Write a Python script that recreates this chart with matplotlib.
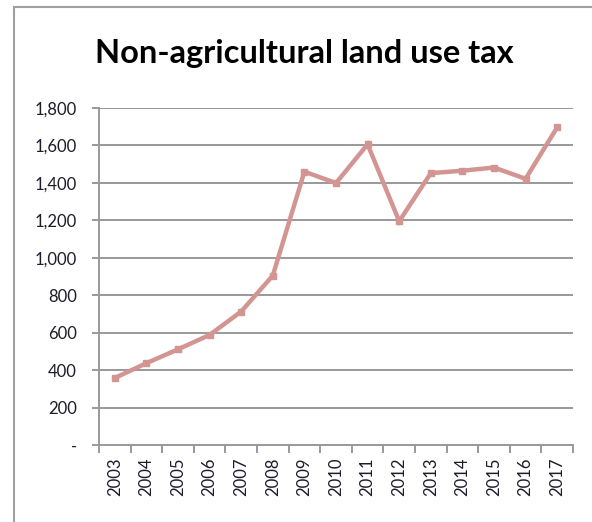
import matplotlib
matplotlib.use('Agg')
import matplotlib.pyplot as plt
from matplotlib.patches import Rectangle
from matplotlib.ticker import FuncFormatter, FixedLocator
import numpy as np

years = ['2003', '2004', '2005', '2006', '2007', '2008', '2009', '2010',
         '2011', '2012', '2013', '2014', '2015', '2016', '2017']
tax = [358, 437, 511, 588, 713, 905, 1460, 1399,
       1606, 1195, 1452, 1465, 1482, 1422, 1697]

plt.rcParams['font.family'] = ['Lato', 'DejaVu Sans']

fig = plt.figure(figsize=(5.92, 5.22), dpi=100)
ax = fig.add_axes([99 / 592, 77 / 522, 474 / 592, 337 / 522])

# chart border
fig.patches.append(Rectangle((14 / 592, -0.1), 1.2, (522 - 7) / 522 + 0.1,
                             transform=fig.transFigure, fill=False,
                             edgecolor='#a0a0a0', linewidth=1.5))

x = np.arange(len(years))
ax.plot(x, tax, color='#d39592', linewidth=3.2, marker='s', markersize=4,
        solid_joinstyle='miter', zorder=3)

ax.set_xlim(-0.5, len(years) - 0.5)
ax.set_ylim(0, 1800)
ax.set_yticks(np.arange(0, 1801, 200))
ax.yaxis.set_major_formatter(FuncFormatter(
    lambda v, p: '-' if v == 0 else '{:,.0f}'.format(v)))
ax.grid(axis='y', color='#999999', linewidth=1.4)
ax.set_axisbelow(True)

ax.set_xticks(x)
ax.set_xticklabels(years, rotation=90)
ax.xaxis.set_minor_locator(FixedLocator(np.arange(-0.5, len(years), 1)))
ax.tick_params(axis='x', which='major', length=0, pad=9)
ax.tick_params(axis='x', which='minor', length=6, color='#999999', width=1.4)
ax.tick_params(axis='y', length=5, color='#999999', width=1.4, pad=11)
ax.tick_params(labelsize=12, labelcolor='#1c1c2a')

for s in ['top', 'right']:
    ax.spines[s].set_visible(False)
for s in ['left', 'bottom']:
    ax.spines[s].set_color('#999999')
    ax.spines[s].set_linewidth(1.4)

fig.text(304 / 592, (522 - 53) / 522, 'Non-agricultural land use tax',
         ha='center', va='center', fontsize=23.5, fontweight='bold',
         color='black')

fig.savefig('out.png', dpi=100)
